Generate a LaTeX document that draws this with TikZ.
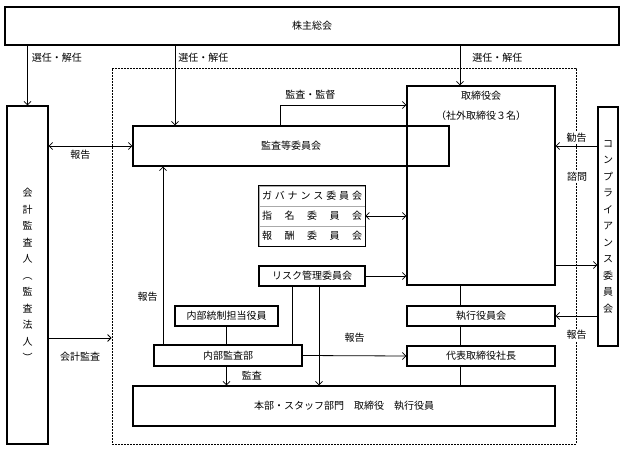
\documentclass[tikz,border=0pt]{standalone}
\usepackage{fontspec}
\setmainfont{Noto Sans CJK JP}
\usetikzlibrary{arrows.meta, positioning}
\definecolor{row_gray}{RGB}{170,170,170}

\begin{document}
\begin{tikzpicture}[x=1pt, y=-1pt, >={Straight Barb[length=3.5pt,width=7pt]},
    every node/.style={font=\fontsize{10}{12}\selectfont, inner sep=1pt},
    box/.style 2 args={draw, line width=1.1pt, minimum width=#1, minimum height=#2, inner sep=0pt},
    vtext/.style={align=center, font=\fontsize{10}{16.5}\selectfont},
    rowbox/.style={draw=row_gray, line width=0.6pt, minimum width=106pt, minimum height=20pt, inner sep=0pt},
    lbl/.style={fill=white, inner sep=1pt},
    conn/.style={line width=0.8pt}]
  \useasboundingbox (0,0) rectangle (624,452);

  % outer dashed group
  \node[draw, dash pattern=on 2pt off 1pt, line width=0.8pt, minimum width=464pt, minimum height=376pt, inner sep=0pt] (grp) at (344,256) {};

  % boxes
  \node[box={614pt}{38pt}] (soukai) at (312,26) {株主総会};
  \node[box={41pt}{338pt}, vtext] (kaikei) at (27.5,275) {会\\計\\監\\査\\人\\︵\\監\\査\\法\\人\\︶};
  \node[box={316pt}{40pt}] (kansa) at (291,146) {監査等委員会};
  \node[box={148pt}{199pt}] (torishimari) at (481,185.5) {};
  \node[align=center, font=\fontsize{10}{20}\selectfont] (torititle) at (481,106) {取締役会\\（社外取締役３名）};
  \node[box={20pt}{239pt}, vtext] (compliance) at (608,226.5) {コ\\ン\\プ\\ラ\\イ\\ア\\ン\\ス\\委\\員\\会};

  \node[rowbox] (gov1) at (312,196) {\hbox to 100pt{ガ\hfill バ\hfill ナ\hfill ン\hfill ス\hfill 委\hfill 員\hfill 会}};
  \node[rowbox] (gov2) at (312,216) {\hbox to 100pt{指\hfill 名\hfill 委\hfill 員\hfill 会}};
  \node[rowbox] (gov3) at (312,236) {\hbox to 100pt{報\hfill 酬\hfill 委\hfill 員\hfill 会}};
  \draw[line width=1.1pt] (gov1.north west) rectangle (gov3.south east);

  \node[box={106pt}{20pt}] (risk) at (312,276) {リスク管理委員会};
  \node[box={103pt}{20pt}] (naibutousei) at (226.5,316) {内部統制担当役員};
  \node[box={148pt}{21pt}] (naibukansa) at (228,355.5) {内部監査部};
  \node[box={148pt}{20pt}] (shikko) at (481,316) {執行役員会};
  \node[box={148pt}{20pt}] (daihyo) at (481,356) {代表取締役社長};
  \node[box={422pt}{40pt}] (honbu) at (344,406) {本部・スタッフ部門　取締役　執行役員};

  % helper coordinates
  \coordinate (sel2) at (175,0);
  \coordinate (sel3) at (460,0);
  \coordinate (kk) at (0,338);
  \coordinate (kantoku) at (280,105);
  \coordinate (kankoku) at (0,146);
  \coordinate (shimon) at (0,265);
  \coordinate (c163) at (163,0);
  \coordinate (c292) at (292,0);
  \coordinate (c319) at (319,0);

  % appointments
  \draw[->, conn] (soukai.south -| kaikei.north) -- (kaikei.north) node[pos=0.2, anchor=west, xshift=3pt] {選任・解任};
  \draw[->, conn] (soukai.south -| sel2) -- (kansa.north -| sel2) node[pos=0.15, anchor=west, xshift=2pt] {選任・解任};
  \draw[->, conn] (soukai.south -| sel3) -- (torishimari.north -| sel3) node[pos=0.3, anchor=west, xshift=11pt] {選任・解任};

  % accounting auditor
  \draw[<->, conn] (kaikei.east |- kansa.west) -- (kansa.west) node[pos=0.38, below=3pt] {報告};
  \draw[->, conn] (kaikei.east |- kk) -- (grp.west |- kk) node[midway, below=13pt] {会計監査};

  % board
  \draw[->, conn] (kansa.north -| kantoku) |- (torishimari.west |- kantoku) node[pos=0.62, above=4pt] {監査・監督};
  \draw[<->, conn] (gov2.east) -- (gov2.east -| torishimari.west);
  \draw[->, conn] (risk.east) -- (risk.east -| torishimari.west);

  % compliance
  \draw[->, conn] (compliance.west |- kankoku) -- (torishimari.east |- kankoku) node[midway, above=2pt, lbl] {勧告};
  \draw[->, conn] (torishimari.east |- shimon) -- (compliance.west |- shimon);
  \node[lbl] (shimonlbl) at (577,177) {諮問};
  \draw[->, conn] (compliance.west |- shikko.east) -- (shikko.east) node[midway, below=13pt, lbl] {報告};

  % execution line
  \draw[conn] (torishimari.south -| sel3) -- (shikko.north -| sel3);
  \draw[conn] (shikko.south -| sel3) -- (daihyo.north -| sel3);
  \draw[conn] (daihyo.south -| sel3) -- (honbu.north -| sel3);

  % internal audit
  \draw[->, conn] (naibukansa.north -| c163) -- (kansa.south -| c163) node[pos=0.27, left=4pt] {報告};
  \draw[conn] (naibutousei.south) -- (naibutousei.south |- naibukansa.north);
  \draw[->, conn] (naibukansa.south -| naibutousei) -- (honbu.north -| naibutousei) node[midway, right=14pt] {監査};
  \draw[->, conn] (naibukansa.east) -- (daihyo.west) node[midway, above=12pt] {報告};
  \draw[conn] (risk.south -| c292) -- (naibukansa.north -| c292);
  \draw[->, conn] (risk.south -| c319) -- (honbu.north -| c319);
\end{tikzpicture}
\end{document}
